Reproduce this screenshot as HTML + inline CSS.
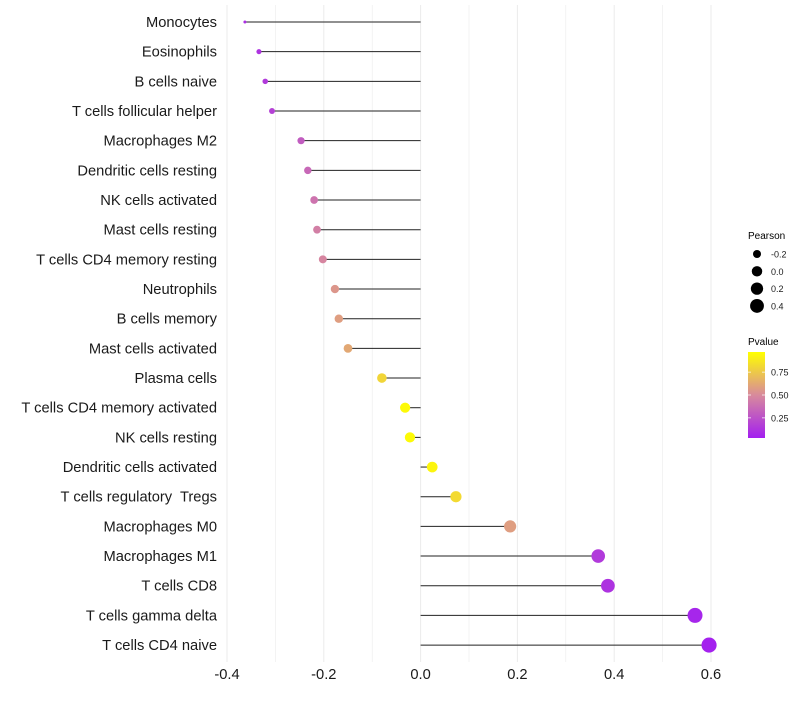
<!DOCTYPE html>
<html><head><meta charset="utf-8"><style>
body{margin:0;background:#fff;font-family:"Liberation Sans",sans-serif}
svg text{font-family:"Liberation Sans",sans-serif;white-space:pre}
</style></head><body>
<svg id="chart" width="800" height="700"></svg>
<script>
const categories=["Monocytes","Eosinophils","B cells naive","T cells follicular helper","Macrophages M2","Dendritic cells resting","NK cells activated","Mast cells resting","T cells CD4 memory resting","Neutrophils","B cells memory","Mast cells activated","Plasma cells","T cells CD4 memory activated","NK cells resting","Dendritic cells activated","T cells regulatory  Tregs","Macrophages M0","Macrophages M1","T cells CD8","T cells gamma delta","T cells CD4 naive"];
const pearson=[-0.363,-0.334,-0.321,-0.307,-0.247,-0.233,-0.22,-0.214,-0.202,-0.177,-0.169,-0.15,-0.08,-0.032,-0.022,0.024,0.073,0.185,0.367,0.387,0.567,0.596];
const pvalues=[0.1,0.12,0.15,0.18,0.3,0.35,0.4,0.45,0.48,0.55,0.58,0.62,0.8,0.95,0.95,0.93,0.82,0.58,0.15,0.12,0.06,0.04];
const xTicks=[-0.4,-0.2,0.0,0.2,0.4,0.6];
const sizeLegend=[-0.2,0.0,0.2,0.4];
const colorTicks=[0.25,0.5,0.75];

const svg=document.getElementById('chart');
const NS='http://www.w3.org/2000/svg';
function mk(t,a,p){const e=document.createElementNS(NS,t);for(const k in a)e.setAttribute(k,a[k]);(p||svg).appendChild(e);return e;}
const x=v=>420.6+v*484;
const y=i=>22+i*29.67;
const r=v=>1.5+Math.sqrt(Math.max(0,v+0.363))*6.2;
const pMin=0.03,pMax=0.97;
function col(p){
  let t=Math.max(0,Math.min(1,(p-pMin)/(pMax-pMin)));
  const a=[163,31,240],b=[216,138,156],c=[255,255,0];
  let s,e,u;
  if(t<0.5){s=a;e=b;u=t/0.5;}else{s=b;e=c;u=(t-0.5)/0.5;}
  return 'rgb('+s.map((v,i)=>Math.round(v+(e[i]-v)*u)).join(',')+')';
}
for(let v=-0.4;v<=0.6001;v+=0.1){
  const g=mk('line',{x1:x(v),x2:x(v),y1:5,y2:662,stroke:'#ebebeb','stroke-width':(Math.round(v*10)%2===0)?1:0.6});
  
  
}
categories.forEach((c,i)=>{
  const l=mk('line',{x1:x(0),x2:x(pearson[i]),y1:y(i),y2:y(i),stroke:'#222','stroke-width':1});
  
  
  const d=mk('circle',{cx:x(pearson[i]),cy:y(i),r:r(pearson[i]),fill:col(pvalues[i])});
  
  
  const t=mk('text',{x:217,y:y(i)+5,'text-anchor':'end','font-size':14.7,fill:'#1a1a1a'});
  t.textContent=c;
  
  
});
xTicks.forEach(v=>{
  const t=mk('text',{x:x(v),y:679,'text-anchor':'middle','font-size':14.7,fill:'#1a1a1a'});
  t.textContent=v.toFixed(1);
  
  
});
const lt=mk('text',{x:748,y:239,'font-size':10,fill:'#000'});lt.textContent='Pearson';


sizeLegend.forEach((v,i)=>{
  const cy=254+i*17.3;
  const c=mk('circle',{cx:757,cy:cy,r:r(v),fill:'#000'});
  
  
  const t=mk('text',{x:771,y:cy+3.5,'font-size':9,fill:'#1a1a1a'});t.textContent=v.toFixed(1);
  
  
});
const ct=mk('text',{x:748,y:345,'font-size':10,fill:'#000'});ct.textContent='Pvalue';


const defs=mk('defs',{});
const lg=mk('linearGradient',{id:'pg',x1:0,y1:1,x2:0,y2:0},defs);
for(let k=0;k<=10;k++){mk('stop',{offset:k/10,'stop-color':col(pMin+(pMax-pMin)*k/10)},lg);}
const cb=mk('rect',{x:748,y:352,width:17,height:86,fill:'url(#pg)'});


const cy=p=>438-(p-pMin)/(pMax-pMin)*86;
colorTicks.forEach(p=>{
  mk('line',{x1:748,x2:751,y1:cy(p),y2:cy(p),stroke:'#fff','stroke-width':0.7});
  mk('line',{x1:762,x2:765,y1:cy(p),y2:cy(p),stroke:'#fff','stroke-width':0.7});
  const t=mk('text',{x:771,y:cy(p)+3.5,'font-size':9,fill:'#1a1a1a'});t.textContent=p.toFixed(2);
  
  
});
</script>
</body></html>
